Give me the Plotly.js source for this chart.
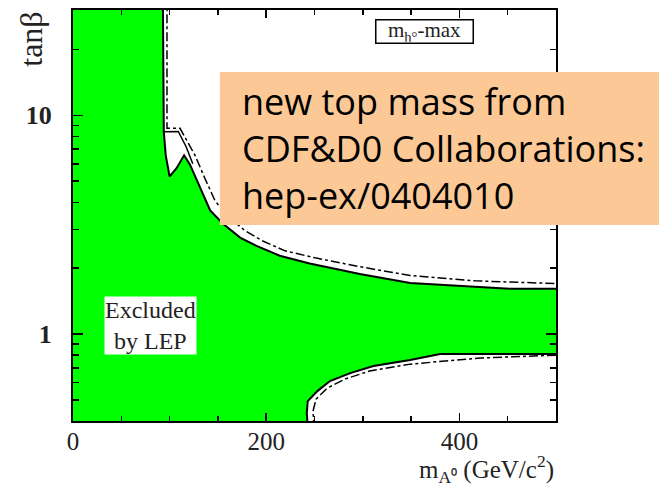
<!DOCTYPE html>
<html>
<head>
<meta charset="utf-8">
<script src="https://cdn.plot.ly/plotly-3.0.1.min.js"></script>
<style>html,body{margin:0;padding:0;background:#fff;}#chart{width:659px;height:488px;}</style>
</head>
<body>
<div id="chart"></div>
<script>
// Excluded region boundary (m_A in GeV/c^2, tan beta)
const upperEdgeX = [93, 94, 96, 100, 107, 115, 121, 131, 142, 155, 173, 190, 214, 245, 297, 349, 414, 452, 500];
const upperEdgeY = [35, 8.4, 6.56, 5.25, 5.71, 6.56, 5.96, 4.77, 3.67, 3.2, 2.76, 2.53, 2.28, 2.10, 1.88, 1.71, 1.64, 1.61, 1.61];
const lowerEdgeX = [500, 380, 349, 311, 287, 266, 253, 243, 242, 243];
const lowerEdgeY = [0.81, 0.81, 0.76, 0.713, 0.662, 0.609, 0.548, 0.493, 0.434, 0.38];
// solid contour above the notch
const notchTopX = [94, 109, 117, 124];
const notchTopY = [8.4, 8.44, 7.2, 6.0];
// dash-dot contour (upper and lower)
const dashUpperX = [97.3, 97.3, 110.8, 119, 126.3, 136.6, 147, 159.4, 178, 195.7, 219.5, 250.5, 297, 349, 416, 500];
const dashUpperY = [35, 8.72, 8.72, 7.44, 6.56, 5.14, 4.07, 3.48, 2.97, 2.67, 2.40, 2.23, 2.03, 1.85, 1.75, 1.70];
const dashLowerX = [500, 421, 349, 307, 281.6, 263, 251.6, 248.4, 249.5];
const dashLowerY = [0.80, 0.776, 0.728, 0.677, 0.622, 0.565, 0.503, 0.443, 0.38];

const xTickVals = [0, 200, 400];
const xTickText = ['0', '200', '400'];
const yTickVals = [1, 10];
const yTickText = ['1', '10'];
const yMinorVals = [0.4, 0.5, 0.6, 0.7, 0.8, 0.9, 2, 3, 4, 5, 6, 7, 8, 9, 20, 30];

const polyX = [0].concat(upperEdgeX, lowerEdgeX, [0]);
const polyY = [35].concat(upperEdgeY, lowerEdgeY, [0.38]);

const serif = 'Liberation Serif, Times New Roman, serif';

const traces = [
  {x: polyX, y: polyY, mode: 'lines', fill: 'toself', fillcolor: '#00ff00',
   line: {width: 0, color: '#00ff00'}, hoverinfo: 'skip', showlegend: false},
  {x: upperEdgeX, y: upperEdgeY, mode: 'lines', line: {color: '#000', width: 2}, showlegend: false},
  {x: lowerEdgeX, y: lowerEdgeY, mode: 'lines', line: {color: '#000', width: 2}, showlegend: false},
  {x: notchTopX, y: notchTopY, mode: 'lines', line: {color: '#000', width: 1.5}, showlegend: false},
  {x: dashUpperX, y: dashUpperY, mode: 'lines', line: {color: '#000', width: 1.5, dash: 'dashdot'}, showlegend: false},
  {x: dashLowerX, y: dashLowerY, mode: 'lines', line: {color: '#000', width: 1.5, dash: 'dashdot'}, showlegend: false}
];

const layout = {
  width: 659, height: 488,
  margin: {l: 73, r: 103, t: 10, b: 67},
  paper_bgcolor: '#fff', plot_bgcolor: '#fff',
  showlegend: false,
  xaxis: {
    range: [0, 500], showgrid: false, zeroline: false,
    showline: true, linecolor: '#000', linewidth: 2, mirror: 'allticks',
    ticks: 'inside', ticklen: 8, tickwidth: 1.5, tickcolor: '#000',
    tickmode: 'array', tickvals: xTickVals, ticktext: xTickText,
    minor: {ticks: 'inside', dtick: 50, tick0: 0, ticklen: 5, tickwidth: 1.5, tickcolor: '#000', showgrid: false},
    tickfont: {family: serif, size: 25, color: '#222'},
    ticklabelstandoff: -3
  },
  yaxis: {
    type: 'log', range: [Math.log10(0.4), Math.log10(30.3)], showgrid: false, zeroline: false,
    showline: true, linecolor: '#000', linewidth: 2, mirror: 'allticks',
    ticks: 'inside', ticklen: 10, tickwidth: 1.5, tickcolor: '#000',
    tickmode: 'array', tickvals: yTickVals, ticktext: yTickText,
    minor: {ticks: 'inside', tickmode: 'array', tickvals: yMinorVals, ticklen: 6, tickwidth: 1.5, tickcolor: '#000', showgrid: false},
    tickfont: {family: serif, size: 26, color: '#222', weight: 'bold'},
    ticklabelstandoff: 14
  },
  shapes: [
    {type: 'rect', xref: 'paper', yref: 'paper', x0: 0.304, x1: 1.25, y0: 0.477, y1: 0.849,
     fillcolor: '#fcc996', line: {width: 0}, layer: 'above'}
  ],
  annotations: [
    {xref: 'paper', yref: 'paper', x: 0.346, y: 0.662, xanchor: 'left', yanchor: 'middle', align: 'left',
     showarrow: false, text: 'new top mass from<br>CDF&amp;D0 Collaborations:<br>hep-ex/0404010',
     font: {family: 'Comic Sans MS, Open Sans, sans-serif', size: 36, color: '#000'}},
    {xref: 'paper', yref: 'paper', x: 0.727, y: 0.947, xanchor: 'center', yanchor: 'middle', showarrow: false,
     text: 'm<sub>h°</sub>-max', bgcolor: '#fff', bordercolor: '#000', borderwidth: 1.5, borderpad: 1,
     width: 94, height: 20,
     font: {family: serif, size: 21, color: '#222'}},
    {xref: 'paper', yref: 'paper', x: 0.16, y: 0.232, xanchor: 'center', yanchor: 'middle', showarrow: false,
     text: 'Excluded<br>by LEP', bgcolor: '#fff', borderpad: 0, font: {family: serif, size: 24, color: '#222'}},
    {xref: 'paper', yref: 'paper', x: -0.087, y: 0.93, xanchor: 'center', yanchor: 'middle', showarrow: false,
     textangle: -90, text: 'tanβ', font: {family: serif, size: 32, color: '#222'}},
    {xref: 'paper', yref: 'paper', x: 1.0, y: -0.117, xanchor: 'right', yanchor: 'middle', showarrow: false,
     text: 'm<sub>A⁰</sub> (GeV/c<sup>2</sup>)', font: {family: serif, size: 25, color: '#222'}}
  ]
};

Plotly.newPlot('chart', traces, layout, {displayModeBar: false, staticPlot: true});
</script>
</body>
</html>
